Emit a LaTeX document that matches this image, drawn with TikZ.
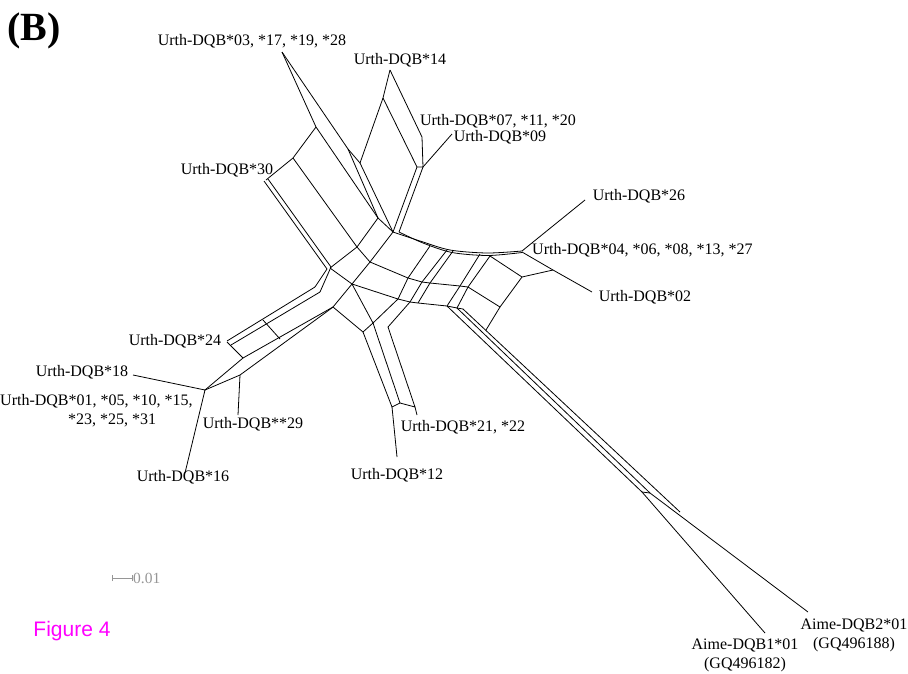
\documentclass[tikz,border=0pt]{standalone}
\usepackage{fontspec}
\setmainfont{Liberation Serif}
\newfontfamily\figfont{Liberation Sans}
\definecolor{figmag}{RGB}{255,0,255}
\definecolor{scalegray}{RGB}{150,150,150}
\begin{document}
\begin{tikzpicture}[x=1pt,y=-1pt,
  net/.style={line width=0.8pt, line join=round},
  lab/.style={inner sep=0pt, font=\fontsize{16}{19}\selectfont}]
\useasboundingbox (0,0) rectangle (908,673);
% ---------- labels ----------
\node[inner sep=0pt, font=\fontsize{40}{40}\selectfont\bfseries] (panel) at (34,31) {(B)};
\node[lab] (l03) at (252,41) {Urth-DQB*03, *17, *19, *28};
\node[lab] (l14) at (400,60) {Urth-DQB*14};
\node[lab] (l07) at (498,121) {Urth-DQB*07, *11, *20};
\node[lab] (l09) at (500,137) {Urth-DQB*09};
\node[lab] (l30) at (227,170) {Urth-DQB*30};
\node[lab] (l26) at (639,196) {Urth-DQB*26};
\node[lab, anchor=west] (l04) at (532,250) {Urth-DQB*04, *06, *08, *13, *27};
\node[lab] (l02) at (645,297) {Urth-DQB*02};
\node[lab] (l24) at (175,341) {Urth-DQB*24};
\node[lab] (l18) at (82,372) {Urth-DQB*18};
\node[lab, anchor=west] (l01a) at (0,401) {Urth-DQB*01, *05, *10, *15,};
\node[lab, anchor=west] (l01b) at (68,420) {*23, *25, *31};
\node[lab] (l29) at (253,424) {Urth-DQB**29};
\node[lab] (l21) at (463,427) {Urth-DQB*21, *22};
\node[lab] (l12) at (397,475) {Urth-DQB*12};
\node[lab] (l16) at (183,477) {Urth-DQB*16};
\node[lab, align=center] (la2) at (854,635) {Aime-DQB2*01\\(GQ496188)};
\node[lab, align=center] (la1) at (745,655) {Aime-DQB1*01\\(GQ496182)};
\node[inner sep=0pt, text=figmag, font=\figfont\fontsize{21}{21}\selectfont] (fig) at (72,631) {Figure 4};
% scale bar
\coordinate (sb1) at (112,578);
\coordinate (sb2) at (132,578);
\draw[scalegray, line width=0.8pt] (sb1) -- (sb2);
\draw[scalegray, line width=0.8pt] ([yshift=-3pt]sb1) -- ([yshift=3pt]sb1);
\draw[scalegray, line width=0.8pt] ([yshift=-3pt]sb2) -- ([yshift=3pt]sb2);
\node[inner sep=0pt, anchor=west, text=scalegray, font=\fontsize{15.5}{15.5}\selectfont] (sbl) at (133,578) {0.01};
% ---------- network ----------
% top-left arm
\draw[net] (282,52) -- (316,127) -- (293,158) -- (266,180);
\draw[net] (282,52) -- (348,149) -- (360,163);
\draw[net] (316,127) -- (378,218) -- (393,232);
\draw[net] (348,149) -- (378,218);
\draw[net] (360,163) -- (393,232);
\draw[net] (293,158) -- (357,247) -- (378,218);
\draw[net] (357,247) -- (330,268);
\draw[net] (264,181) -- (327,269);
\draw[net] (268,179) -- (331,267);
% top-right arm
\draw[net] (390,70) -- (383,98) -- (360,163);
\draw[net] (390,70) -- (422,137) -- (423,167) -- (417,167) -- (383,98);
\draw[net] (452,134) -- (423,167);
\draw[net] (417,167) -- (393,232);
\draw[net] (423,167) -- (399,232);
% top double curve
\draw[net] plot[smooth] coordinates {(393,232) (420,241) (450,250) (487,253) (522,251)};
\draw[net] plot[smooth] coordinates {(399,232) (423,243) (452,252.5) (488,255.5) (522,252.5)};
% right part
\draw[net] (522,251) -- (585,200);
\draw[net] (522,252) -- (553,270) -- (592,292);
\draw[net] (553,270) -- (522,277) -- (490,256);
\draw[net] (522,277) -- (500,307) -- (486,330);
% central grid
\draw[net] (393,232) -- (370,262) -- (352,284);
\draw[net] (430,246) -- (408,278) -- (398,299);
\draw[net] (447,250) -- (422,282) -- (410,302);
\draw[net] (453,251) -- (430,283) -- (418,303);
\draw[net] (480,254) -- (460,286) -- (447,306);
\draw[net] (490,256) -- (468,287) -- (457,308);
\draw[net] (357,247) -- (370,262) -- (408,278) -- (422,282) -- (430,283) -- (460,286) -- (468,287) -- (500,307);
\draw[net] (352,284) -- (398,299) -- (410,302) -- (418,303) -- (447,306) -- (457,308) -- (463,309);
% left elbow
\draw[net] (327,269) -- (315,287);
\draw[net] (331,267) -- (320,292);
\draw[net] (330,268) -- (352,284);
% *24 band
\draw[net] (315,287) -- (227,341);
\draw[net] (320,292) -- (231,345);
\draw[net] (263,320) -- (280,339);
\draw[net] (227,342) -- (243,358);
% lower band
\draw[net] (205,390) -- (243,358) -- (333,307) -- (352,284);
\draw[net] (205,390) -- (240,375) -- (325,313) -- (333,307);
\draw[net] (333,307) -- (363,332) -- (373,323) -- (352,284);
% leaves left
\draw[net] (240,375) -- (238,415);
\draw[net] (133,375) -- (205,390) -- (185,473);
% *12 arm
\draw[net] (373,323) -- (398,299);
\draw[net] (388,327) -- (410,302);
\draw[net] (363,332) -- (392,407) -- (400,403) -- (415,407) -- (388,327);
\draw[net] (373,323) -- (400,403);
\draw[net] (392,407) -- (397,457);
\draw[net] (415,407) -- (417,415);
% long arm to Aime
\draw[net] (447,306) -- (642,492) -- (765,633);
\draw[net] (457,308) -- (650,493) -- (808,612);
\draw[net] (642,492) -- (650,493);
\draw[net] (463,309) -- (680,512);
\end{tikzpicture}
\end{document}
